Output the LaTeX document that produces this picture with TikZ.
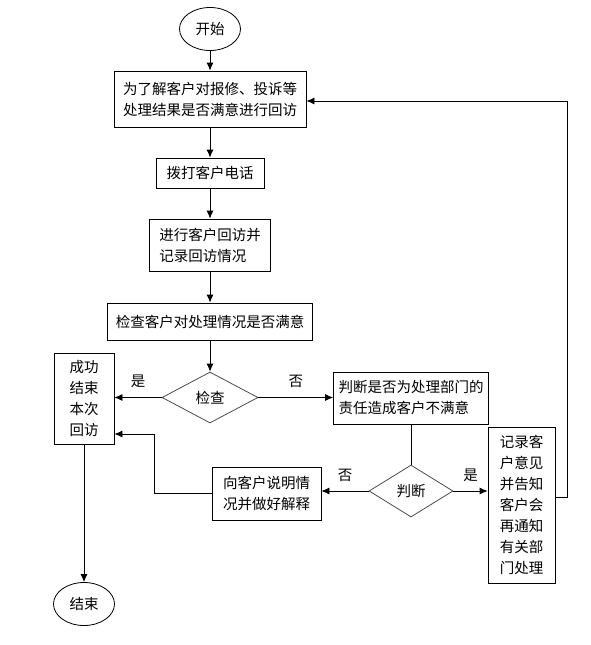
\documentclass[tikz,border=0pt]{standalone}
\usepackage{fontspec}
\newfontfamily\cjk{Noto Sans CJK SC}
\usepackage{tikz}
\usetikzlibrary{shapes,arrows.meta}

\begin{document}
\begin{tikzpicture}[x=1pt,y=-1pt]

    \tikzset{Proceso/.style = {shape=rectangle,draw,line width=0.8pt,inner sep=0pt,align=left,font=\cjk\fontsize{14.5}{21}\selectfont}}
    \tikzset{Terminal/.style = {shape=ellipse,draw,line width=0.8pt,minimum width=61pt,minimum height=43pt,inner sep=0pt,font=\cjk\fontsize{14.5}{21}\selectfont}}
    \tikzset{Decision/.style = {shape=diamond,draw=black!70,line width=0.8pt,inner sep=0pt,font=\cjk\fontsize{14.5}{21}\selectfont}}
    \tikzset{etiqueta/.style = {font=\cjk\fontsize{14.5}{21}\selectfont}}
    \tikzset{flecha/.style = {-{Latex[length=8pt,width=7pt]},line width=0.8pt}}
    \tikzset{linea/.style = {line width=0.8pt}}

    \useasboundingbox (0,0) rectangle (591,645);

    %columna principal
    \node [Terminal] (inicio) at (210,29) {开始};
    \node [Proceso,minimum width=192pt,minimum height=56pt] (visita) at (210,99)
        {为了解客户对报修、投诉等\\处理结果是否满意进行回访};
    \draw [flecha] (inicio) to (visita);

    \node [Proceso,minimum width=108pt,minimum height=30pt] (llamada) at (210,173) {拨打客户电话};
    \draw [flecha] (visita) to (llamada);

    \node [Proceso,minimum width=121pt,minimum height=52pt] (anotar) at (210,245)
        {进行客户回访并\\记录回访情况};
    \draw [flecha] (llamada) to (anotar);

    \node [Proceso,minimum width=205pt,minimum height=37pt] (revision) at (210,321.5)
        {检查客户对处理情况是否满意};
    \draw [flecha] (anotar) to (revision);

    \node [Decision,minimum width=96pt,minimum height=51pt] (rombo1) at (210,397.5) {检查};
    \draw [flecha] (revision) to (rombo1);


    %rama del si
    \node [Proceso,minimum width=60pt,minimum height=91pt] (exito) at (84,398.5)
        {成功\\结束\\本次\\回访};
    \draw [flecha] (rombo1)
        to node[etiqueta,above=6pt] {是} (rombo1 -| exito.east);

    \node [Terminal] (fin) at (84,604) {结束};
    \draw [flecha] (exito) to (fin);


    %rama del no
    \node [Proceso,minimum width=155pt,minimum height=52pt] (juicio) at (411,398)
        {判断是否为处理部门的\\责任造成客户不满意};
    \draw [flecha] (rombo1)
        to node[etiqueta,above=6pt] {否} (rombo1 -| juicio.west);

    \node [Decision,minimum width=84pt,minimum height=52pt] (rombo2) at (411,491) {判断};
    \draw [linea] (juicio) to (rombo2);

    \node [Proceso,minimum width=109pt,minimum height=53pt] (explicar) at (266.5,493.5)
        {向客户说明情\\况并做好解释};
    \draw [flecha] (rombo2)
        to node[etiqueta,above=6pt] {否} (rombo2 -| explicar.east);

    \coordinate (codoA) at (154,434);
    \draw [flecha] (explicar.west) -| (codoA) -- (codoA -| exito.east);

    \node [Proceso,minimum width=67pt,minimum height=156pt] (aviso) at (521.5,505)
        {记录客\\户意见\\并告知\\客户会\\再通知\\有关部\\门处理};
    \draw [flecha] (rombo2)
        to node[etiqueta,above=6pt] {是} (rombo2 -| aviso.west);

    \coordinate (codoB) at (567,101);
    \draw [flecha] ([yshift=8pt]aviso.east) -| (codoB) -- (codoB -| visita.east);

\end{tikzpicture}
\end{document}
